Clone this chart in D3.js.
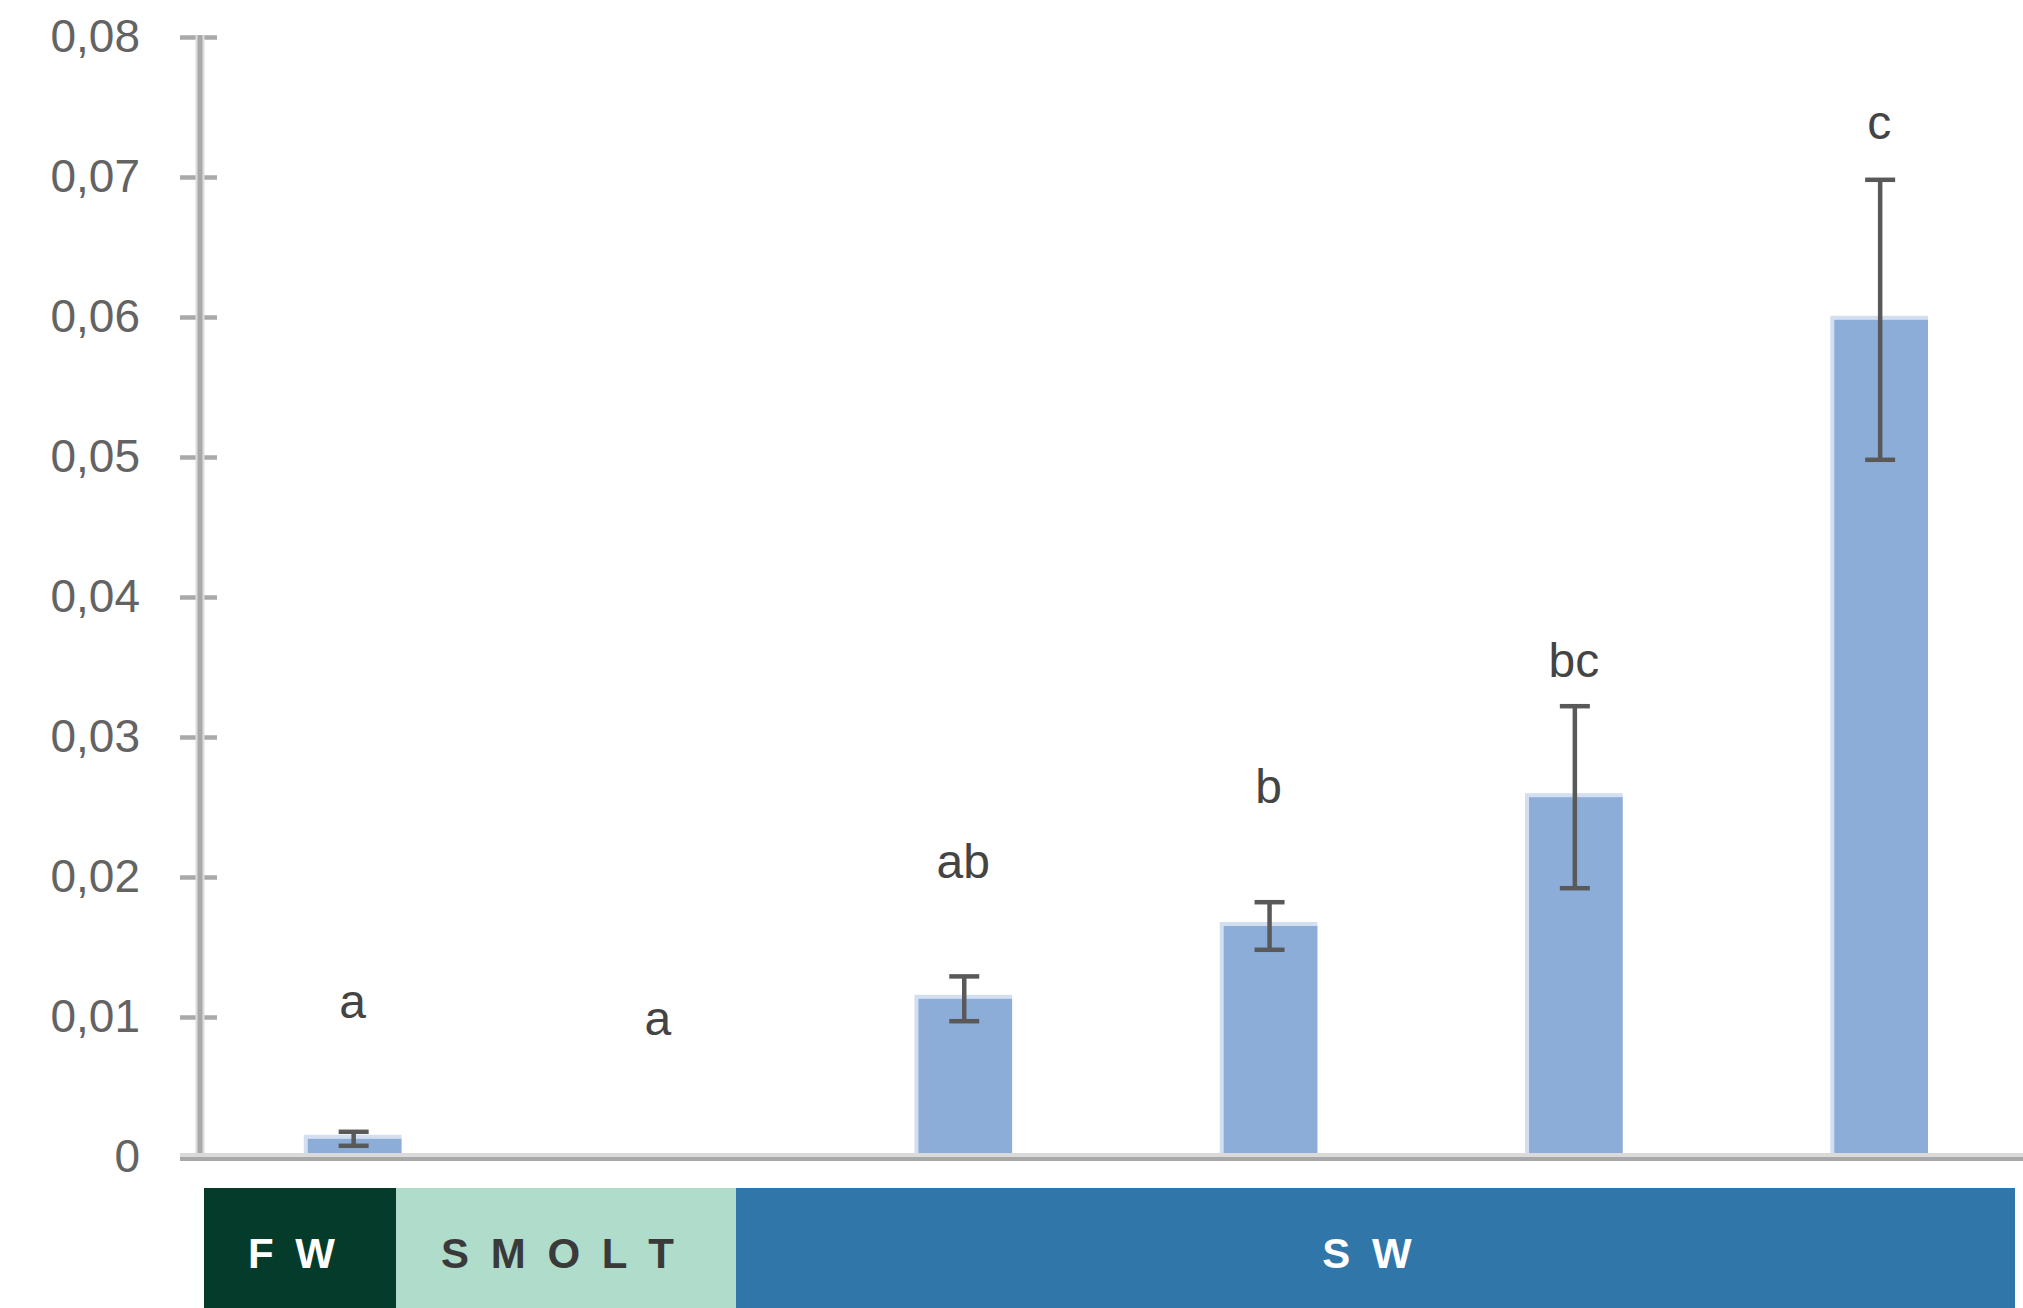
<!DOCTYPE html>
<html>
<head>
<meta charset="utf-8">
<script src="https://cdn.jsdelivr.net/npm/d3@7"></script>
<style>
  html, body { margin: 0; padding: 0; background: #fff; }
  svg { display: block; }
</style>
</head>
<body>
<svg id="chart" width="2023" height="1308"></svg>
<script>
// Sampling points along the freshwater -> smolt -> seawater transfer
const categories = ["FW", "Smolt", "SW 1", "SW 2", "SW 3", "SW 4"];
const means      = [0.0013, 0, 0.0113, 0.0165, 0.0257, 0.0598];
const errors     = [0.0005, 0, 0.0016, 0.0017, 0.0065, 0.0100];
// Significance letters and the value level their baseline sits at
const letters    = ["a", "a", "ab", "b", "bc", "c"];
const letterAt   = [0.0099, 0.0087, 0.0199, 0.0253, 0.0343, 0.0727];
// Y axis
const tickValues = [0, 0.01, 0.02, 0.03, 0.04, 0.05, 0.06, 0.07, 0.08];
const tickLabels = ["0", "0,01", "0,02", "0,03", "0,04", "0,05", "0,06", "0,07", "0,08"];
// Life stage strip below the axis
const stages      = ["F W", "S M O L T", "S W"];

// ---- layout ----
const axisX = 200, yBase = 1157, yTop = 37;
const step = 305.3;
const stageEdges = [204, 396, 736, 2015];   // pixel edges of the stage strip
const stageFill  = ["#043b2a", "#b0dccb", "#3176a8"];
const stageInk   = ["#ffffff", "#3a3a3a", "#ffffff"];

const svg = d3.select("#chart");

const x = d3.scaleBand()
  .domain(categories)
  .range([axisX, axisX + step * categories.length])
  .paddingInner(0.68)
  .paddingOuter(0.34);

const y = d3.scaleLinear().domain([0, 0.08]).range([yBase, yTop]);

// Y axis line + crossing ticks
const yAxis = d3.axisLeft(y)
  .tickValues(tickValues)
  .tickFormat((d, i) => tickLabels[i])
  .tickSizeInner(0)
  .tickSizeOuter(0)
  .tickPadding(60);

const gy = svg.append("g").attr("transform", `translate(${axisX},0)`).call(yAxis);
gy.select(".domain").remove();
gy.selectAll(".tick text")
  .attr("fill", "#636363")
  .style("font-family", "'Liberation Sans', Arial, sans-serif")
  .style("font-size", "46px");
gy.selectAll(".tick").append("line")
  .attr("x1", -20).attr("x2", 17)
  .attr("stroke", "#a9a9a9").attr("stroke-width", 4.5);

svg.append("line")
  .attr("x1", axisX).attr("x2", axisX)
  .attr("y1", y(0.08) - 2).attr("y2", yBase)
  .attr("stroke", "#dcdcdc").attr("stroke-width", 9);
svg.append("line")
  .attr("x1", axisX).attr("x2", axisX)
  .attr("y1", y(0.08) - 2).attr("y2", yBase)
  .attr("stroke", "#a9a9a9").attr("stroke-width", 5);

// Bars (with a pale halo on the upper-left edges)
const bars = svg.append("g");
means.forEach((v, i) => {
  if (v <= 0) return;
  const bx = x(categories[i]), bw = x.bandwidth();
  bars.append("rect")
    .attr("x", bx).attr("y", y(v) - 4)
    .attr("width", bw).attr("height", yBase - y(v) + 4)
    .attr("fill", "#d3dff0");
  bars.append("rect")
    .attr("x", bx + 4).attr("y", y(v))
    .attr("width", bw - 4).attr("height", yBase - y(v))
    .attr("fill", "#8dadd9");
});

// X axis line
svg.append("rect").attr("x", 180).attr("y", yBase - 4).attr("width", 1843).attr("height", 4).attr("fill", "#dadada");
svg.append("rect").attr("x", 180).attr("y", yBase).attr("width", 1843).attr("height", 4).attr("fill", "#a8a8a8");

// Error bars
const eb = svg.append("g").attr("stroke", "#595959").attr("stroke-width", 4.5);
means.forEach((v, i) => {
  const e = errors[i];
  if (e <= 0) return;
  const cx = x(categories[i]) + x.bandwidth() / 2 + 1;
  eb.append("line").attr("x1", cx).attr("x2", cx).attr("y1", y(v + e)).attr("y2", y(v - e));
  eb.append("line").attr("x1", cx - 15).attr("x2", cx + 15).attr("y1", y(v + e)).attr("y2", y(v + e));
  eb.append("line").attr("x1", cx - 15).attr("x2", cx + 15).attr("y1", y(v - e)).attr("y2", y(v - e));
});

// Significance letters
svg.append("g").selectAll("text")
  .data(letters)
  .join("text")
  .attr("x", (d, i) => x(categories[i]) + x.bandwidth() / 2)
  .attr("y", (d, i) => y(letterAt[i]))
  .attr("text-anchor", "middle")
  .attr("fill", "#444")
  .style("font-family", "'Liberation Sans', Arial, sans-serif")
  .style("font-size", "48px")
  .text(d => d);

// Stage strip
const strip = svg.append("g");
stages.forEach((s, i) => {
  const x0 = stageEdges[i], x1 = stageEdges[i + 1];
  strip.append("rect")
    .attr("x", x0).attr("y", 1188)
    .attr("width", x1 - x0).attr("height", 120)
    .attr("fill", stageFill[i]);
  strip.append("text")
    .attr("x", (x0 + x1) / 2 - 6)
    .attr("y", 1268)
    .attr("text-anchor", "middle")
    .attr("fill", stageInk[i])
    .style("font-family", "'Liberation Sans', Arial, sans-serif")
    .style("font-weight", "bold")
    .style("font-size", "42px")
    .style("letter-spacing", "5px")
    .text(s);
});
</script>
</body>
</html>
